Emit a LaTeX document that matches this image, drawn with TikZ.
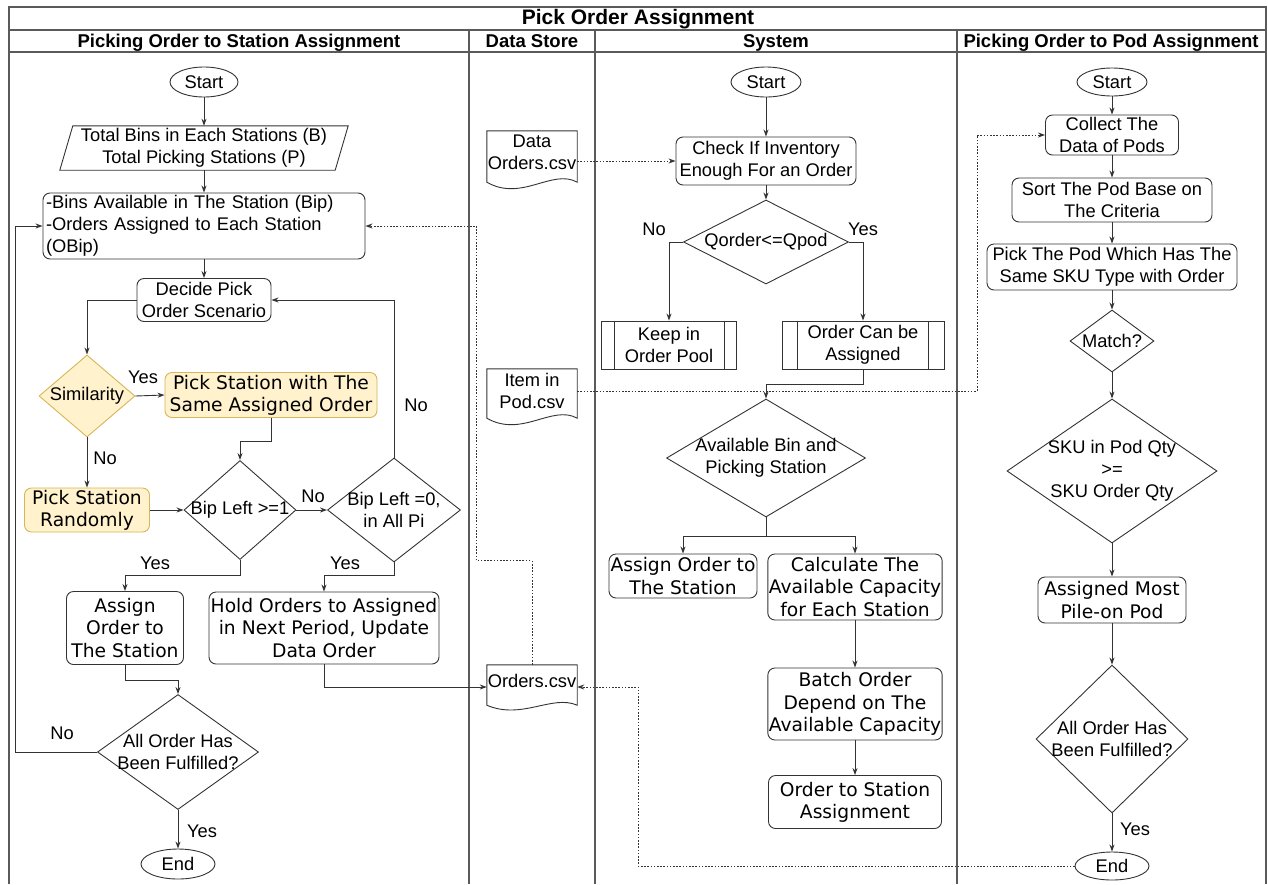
\documentclass[tikz,border=0pt]{standalone}
\usepackage{fontspec}
\setmainfont{Liberation Sans}
\newfontfamily\dvfont{DejaVu Sans}
\usetikzlibrary{shapes.geometric,arrows.meta,calc}
\definecolor{lc}{HTML}{333333}
\definecolor{framec}{HTML}{5A5A5A}
\definecolor{yfill}{HTML}{FFF2CC}
\definecolor{ydraw}{HTML}{D6B656}
\tikzset{
 every node/.style={font=\fontsize{18.3}{22}\selectfont, inner sep=1pt, text=black},
 box/.style={draw=lc, line width=0.9pt, rounded corners=7pt, align=center},
 dvbox/.style={box, font=\dvfont\fontsize{18.7}{22.3}\selectfont},
 ybox/.style={dvbox, fill=yfill, draw=ydraw},
 term/.style={ellipse, draw=lc, line width=0.9pt, inner sep=0pt},
 dia/.style={diamond, draw=lc, line width=0.9pt, inner sep=0pt},
 plain/.style={inner sep=0pt, align=center},
 doc/.style={minimum width=90, inner sep=0pt, align=center},
 pproc/.style={draw=lc, line width=0.9pt, align=center},
 arr/.style={draw=lc, line width=0.9pt, -{Stealth[length=7pt,width=5pt]}},
 dotarr/.style={arr, dash pattern=on 1.6pt off 1.6pt},
 frame/.style={draw=framec, line width=1.2pt},
 head/.style={font=\bfseries\fontsize{18.5}{22}\selectfont, text height=13.5pt, text depth=4pt},
 lbl/.style={inner sep=0pt},
}
\newcommand\mydocwave[2]{\draw[draw=lc, line width=0.9pt] (#1.north west) -- (#1.north east) -- ([shift={(0,#2)}]#1.south east) .. controls ([shift={(-25,#2-14)}]#1.south east) and ([shift={(35,#2+20)}]#1.south west) .. ([shift={(0,#2)}]#1.south west) -- cycle;}
\begin{document}
\begin{tikzpicture}[x=1pt,y=-1pt]
\useasboundingbox (0,0) rectangle (1268,884);
% frame
\draw[frame] (9,884) -- (9,7) -- (1266,7) -- (1266,884);
\draw[frame] (9,30) -- (1266,30);
\draw[frame] (9,52) -- (1266,52);
\draw[frame] (469,30) -- (469,884);
\draw[frame] (595,30) -- (595,884);
\draw[frame] (957,30) -- (957,884);
\node[font=\bfseries\fontsize{21}{24}\selectfont] (title) at (638,19) {Pick Order Assignment};
\node[head] (h1) at (239,42.5) {Picking Order to Station Assignment};
\node[head] (h2) at (532,42.5) {Data Store};
\node[head] (h3) at (776,42.5) {System};
\node[head] (h4) at (1111,42.5) {Picking Order to Pod Assignment};

% ---------- left lane ----------
\node[term, minimum width=68, minimum height=30] (s1) at (204,82) {Start};
\node[plain, minimum width=275, minimum height=44] (par) at (204,148) {Total Bins in Each Stations (B)\\Total Picking Stations (P)};
\draw[draw=lc, line width=0.9pt] ([xshift=6.5]par.north west) -- ([xshift=6.5]par.north east) -- ([xshift=-6.5]par.south east) -- ([xshift=-6.5]par.south west) -- cycle;
\node[box, minimum width=322, minimum height=66, text width=316, align=left] (bins) at (204,226) {-Bins Available in The Station (Bip)\\-Orders Assigned to Each Station\\(OBip)};
\node[box, minimum width=134, minimum height=43] (decide) at (204,300) {Decide Pick\\Order Scenario};
\node[dia, fill=yfill, draw=ydraw, minimum width=96, minimum height=82, label={[plain]center:{Similarity}}] (sim) at (87,396) {};
\node[ybox, minimum width=212, minimum height=45] (same) at (271,395) {Pick Station with The\\Same Assigned Order};
\node[ybox, minimum width=125, minimum height=44] (rand) at (87,510) {Pick Station\\Randomly};
\node[dia, minimum width=112, minimum height=99, label={[plain]center:{Bip Left >=1}}] (d1) at (240,510) {};
\node[dia, minimum width=133, minimum height=104, label={[plain]center:{Bip Left =0,\\in All Pi}}] (d2) at (394,510) {};
\node[dvbox, minimum width=117, minimum height=73] (as1) at (125,628) {Assign\\Order to\\The Station};
\node[dvbox, minimum width=230, minimum height=72] (hold) at (324,628) {Hold Orders to Assigned\\in Next Period, Update\\Data Order};
\node[dia, minimum width=161, minimum height=115, label={[plain]center:{All Order Has\\Been Fulfilled?}}] (d3) at (178,752) {};
\node[term, minimum width=74, minimum height=30] (e1) at (178,864) {End};

\node[lbl] (l1) at (143,377) {Yes};
\node[lbl] (l2) at (105,458) {No};
\node[lbl] (l3) at (313,496) {No};
\node[lbl] (l4) at (416,405) {No};
\node[lbl] (l5) at (155,563) {Yes};
\node[lbl] (l6) at (345,563) {Yes};
\node[lbl] (l7) at (62,733) {No};
\node[lbl] (l8) at (202,831) {Yes};

\draw[arr] (s1.south) -- (par.north);
\draw[arr] (par.south) -- (bins.north);
\draw[arr] (bins.south) -- (decide.north);
\draw[arr] (decide.west) -| (sim.north);
\draw[arr] (sim.east) -- (same.west);
\draw[arr] (sim.south) -- (rand.north);
\draw[arr] (same.south) -- ++(0,23) -| (d1.north);
\draw[arr] (rand.east) -- (d1.west);
\draw[arr] (d1.east) -- (d2.west);
\draw[arr] (d2.north) |- (decide.east);
\draw[arr] (d1.south) -- ++(0,15.5) -| (as1.north);
\draw[arr] (d2.south) -- ++(0,13) -| (hold.north);
\draw[arr] (as1.south) -- ++(0,15) -| (d3.north);
\draw[arr] (d3.west) -- ++(-82,0) |- (bins.west);
\draw[arr] (d3.south) -- (e1.north);

% ---------- data store ----------
\node[doc, minimum height=42] (dord) at (532,152) {Data\\Orders.csv};
\mydocwave{dord}{9}
\node[doc, minimum height=44] (item) at (532,391) {Item in\\Pod.csv};
\mydocwave{item}{5}
\node[doc, minimum height=32] (ord) at (532,681) {Orders.csv};
\draw[draw=lc, line width=0.9pt] (ord.north west) -- (ord.north east) -- ([shift={(0,8)}]ord.south east) .. controls ([shift={(-25,-3)}]ord.south east) and ([shift={(35,23)}]ord.south west) .. ([shift={(0,8)}]ord.south west) -- cycle;

\draw[arr] (hold.south) |- ([shift={(0,6)}]ord.west);

% ---------- system ----------
\node[term, minimum width=70, minimum height=30] (s2) at (766,82) {Start};
\node[box, minimum width=180, minimum height=48] (check) at (766,161) {Check If Inventory\\Enough For an Order};
\node[dia, minimum width=165, minimum height=84, label={[plain]center:{Qorder<=Qpod}}] (q) at (766,242) {};
\node[pproc, minimum width=135, minimum height=48] (keep) at (669,345) {Keep in\\Order Pool};
\draw[draw=lc, line width=0.9pt] ([xshift=13]keep.north west) -- ([xshift=13]keep.south west);
\draw[draw=lc, line width=0.9pt] ([xshift=-13]keep.north east) -- ([xshift=-13]keep.south east);
\node[pproc, minimum width=162, minimum height=48] (can) at (863,345) {Order Can be\\Assigned};
\draw[draw=lc, line width=0.9pt] ([xshift=16]can.north west) -- ([xshift=16]can.south west);
\draw[draw=lc, line width=0.9pt] ([xshift=-16]can.north east) -- ([xshift=-16]can.south east);
\node[dia, minimum width=199, minimum height=118, label={[plain]center:{Available Bin and\\Picking Station}}] (avail) at (766,458) {};
\node[dvbox, minimum width=148, minimum height=44] (as2) at (683,576) {Assign Order to\\The Station};
\node[dvbox, minimum width=172, minimum height=66] (calc) at (855,587) {Calculate The\\Available Capacity\\for Each Station};
\node[dvbox, minimum width=173, minimum height=72] (batch) at (855,704) {Batch Order\\Depend on The\\Available Capacity};
\node[dvbox, minimum width=173, minimum height=53] (ots) at (855,802) {Order to Station\\Assignment};

\node[lbl] (l9) at (654,229) {No};
\node[lbl] (l10) at (863,229) {Yes};

\draw[arr] (s2.south) -- (check.north);
\draw[arr] (check.south) -- (q.north);
\draw[arr] (q.west) -| (keep.north);
\draw[arr] (q.east) -| (can.north);
\draw[arr] (can.south) -- ++(0,15) -| (avail.north);
\draw[arr] (avail.south) -- ++(0,19) -| (as2.north);
\draw[arr] (avail.south) -- ++(0,19) -| (calc.north);
\draw[arr] (calc.south) -- (batch.north);
\draw[arr] (batch.south) -- (ots.north);

% ---------- pod lane ----------
\node[term, minimum width=70, minimum height=28] (s3) at (1112,82) {Start};
\node[box, minimum width=133, minimum height=40] (collect) at (1112,135) {Collect The\\Data of Pods};
\node[box, minimum width=200, minimum height=44] (sort) at (1112,200) {Sort The Pod Base on\\The Criteria};
\node[box, minimum width=250, minimum height=46] (pick) at (1112,267) {Pick The Pod Which Has The\\Same SKU Type with Order};
\node[dia, minimum width=84, minimum height=62, label={[plain]center:{Match?}}] (match) at (1112,341) {};
\node[dia, minimum width=210, minimum height=144, label={[plain]center:{SKU in Pod Qty\\>=\\SKU Order Qty}}] (sku) at (1112,471) {};
\node[dvbox, minimum width=148, minimum height=46] (most) at (1112,600) {Assigned Most\\Pile-on Pod};
\node[dia, minimum width=152, minimum height=148, label={[plain]center:{All Order Has\\Been Fulfilled?}}] (d4) at (1112,739) {};
\node[term, minimum width=74, minimum height=28] (e3) at (1112,866) {End};
\node[lbl] (l11) at (1135,829) {Yes};

\draw[arr] (s3.south) -- (collect.north);
\draw[arr] (collect.south) -- (sort.north);
\draw[arr] (sort.south) -- (pick.north);
\draw[arr] (pick.south) -- (match.north);
\draw[arr] (match.south) -- (sku.north);
\draw[arr] (sku.south) -- (most.north);
\draw[arr] (most.south) -- (d4.north);
\draw[arr] (d4.south) -- (e3.north);

% ---------- dotted data links ----------
\draw[dotarr] (dord.east |- check.west) -- (check.west);
\draw[dotarr] (item.east) -| ([xshift=-68]collect.west) -- (collect.west);
\draw[dotarr] (ord.north) -- ++(0,-104) -| ([xshift=111]bins.east) -- (bins.east);
\draw[dotarr] (e3.west) -| ([shift={(61,6)}]ord.east) -- ([shift={(0,6)}]ord.east);
\end{tikzpicture}
\end{document}
